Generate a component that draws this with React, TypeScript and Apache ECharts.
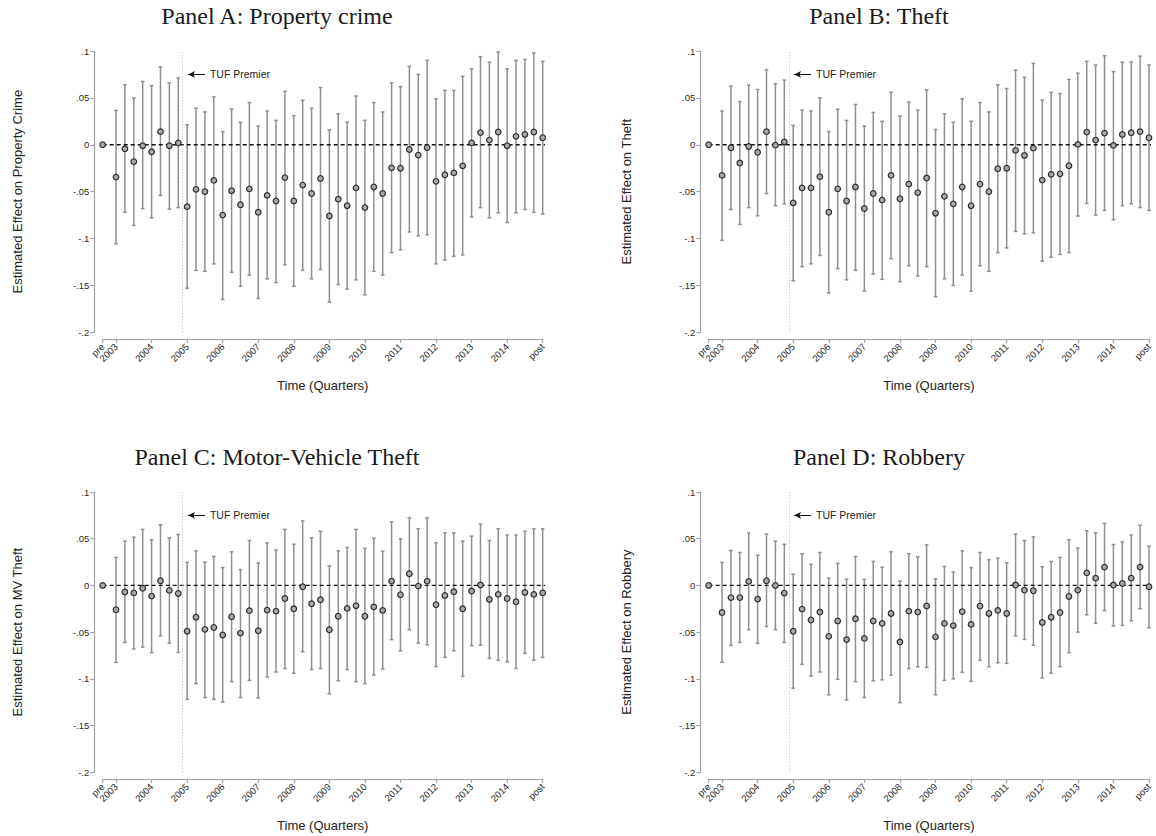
import React, { useEffect, useRef } from 'react';
import * as echarts from 'echarts';

// ---- axis ticks ----
const X_TICKS = [-1.5, 0, 4, 8, 12, 16, 20, 24, 28, 32, 36, 40, 44, 48];
const X_TICK_LABELS = ['pre', '2003', '2004', '2005', '2006', '2007', '2008', '2009', '2010', '2011', '2012', '2013', '2014', 'post'];
const Y_TICKS = [-0.2, -0.15, -0.1, -0.05, 0, 0.05, 0.1];
const Y_TICK_LABELS = ['-.2', '-.15', '-.1', '-.05', '0', '.05', '.1'];

// periods: pre, 2003Q1 ... 2014Q4, post (x position in quarters since 2003Q1)
const PERIOD_X: number[] = [-1.5];
for (let i = 0; i < 48; i++) PERIOD_X.push(i);
PERIOD_X.push(48);

const TUF_PREMIER_X = 7.5;
const TUF_LABEL_Y = 0.075;

// ---- Panel A: Property crime ----
const EST_A = [0, -0.0345, -0.0043, -0.018, -0.001, -0.0075, 0.014, -0.001, 0.002, -0.066, -0.0476, -0.05, -0.038, -0.075, -0.049, -0.064, -0.047, -0.072, -0.054, -0.06, -0.035, -0.06, -0.043, -0.052, -0.036, -0.076, -0.058, -0.065, -0.046, -0.067, -0.045, -0.052, -0.0246, -0.025, -0.005, -0.011, -0.003, -0.039, -0.032, -0.03, -0.0225, 0.002, 0.013, 0.005, 0.0136, -0.001, 0.009, 0.011, 0.0136, 0.0075];
const LO_A = [0, -0.1055, -0.072, -0.086, -0.068, -0.078, -0.054, -0.0686, -0.067, -0.153, -0.134, -0.135, -0.127, -0.165, -0.136, -0.151, -0.139, -0.164, -0.143, -0.147, -0.128, -0.151, -0.134, -0.143, -0.133, -0.168, -0.149, -0.154, -0.144, -0.16, -0.135, -0.139, -0.115, -0.112, -0.093, -0.097, -0.096, -0.127, -0.123, -0.119, -0.1175, -0.077, -0.067, -0.078, -0.0725, -0.083, -0.0725, -0.069, -0.072, -0.074];
const HI_A = [0, 0.0366, 0.064, 0.05, 0.0675, 0.063, 0.083, 0.066, 0.0714, 0.0213, 0.039, 0.035, 0.051, 0.014, 0.038, 0.024, 0.045, 0.02, 0.036, 0.026, 0.057, 0.031, 0.0475, 0.039, 0.061, 0.016, 0.033, 0.024, 0.052, 0.026, 0.045, 0.035, 0.066, 0.062, 0.0836, 0.075, 0.09, 0.049, 0.058, 0.058, 0.073, 0.081, 0.094, 0.088, 0.099, 0.081, 0.09, 0.091, 0.098, 0.089];

// ---- Panel B: Theft ----
const EST_B = [0, -0.0327, -0.0032, -0.0195, -0.0018, -0.008, 0.014, -0.0004, 0.003, -0.062, -0.046, -0.046, -0.034, -0.072, -0.047, -0.06, -0.045, -0.068, -0.052, -0.059, -0.0327, -0.0576, -0.042, -0.051, -0.0355, -0.073, -0.055, -0.063, -0.045, -0.065, -0.042, -0.05, -0.0256, -0.025, -0.006, -0.0114, -0.0036, -0.0377, -0.0316, -0.031, -0.0224, 0.0004, 0.0135, 0.005, 0.0124, -0.0007, 0.011, 0.0128, 0.014, 0.0075];
const LO_B = [0, -0.102, -0.069, -0.085, -0.067, -0.0757, -0.052, -0.065, -0.063, -0.145, -0.13, -0.127, -0.118, -0.158, -0.132, -0.144, -0.134, -0.156, -0.138, -0.1435, -0.1215, -0.146, -0.129, -0.14, -0.13, -0.162, -0.143, -0.15, -0.139, -0.156, -0.129, -0.135, -0.115, -0.11, -0.0924, -0.095, -0.094, -0.124, -0.12, -0.117, -0.115, -0.076, -0.0625, -0.075, -0.07, -0.08, -0.065, -0.063, -0.067, -0.07];
const HI_B = [0, 0.036, 0.0625, 0.046, 0.0636, 0.059, 0.08, 0.065, 0.069, 0.0206, 0.037, 0.036, 0.05, 0.014, 0.038, 0.026, 0.043, 0.02, 0.0345, 0.025, 0.056, 0.0306, 0.0455, 0.037, 0.0586, 0.0163, 0.033, 0.024, 0.049, 0.025, 0.045, 0.035, 0.064, 0.06, 0.0796, 0.072, 0.0867, 0.0476, 0.0558, 0.0547, 0.0697, 0.0764, 0.089, 0.085, 0.095, 0.078, 0.088, 0.0885, 0.0945, 0.085];

// ---- Panel C: Motor-Vehicle Theft ----
const EST_C = [0, -0.026, -0.007, -0.008, -0.003, -0.0114, 0.005, -0.0053, -0.0086, -0.049, -0.034, -0.047, -0.045, -0.053, -0.0335, -0.051, -0.027, -0.0485, -0.0264, -0.0275, -0.014, -0.025, -0.0014, -0.0196, -0.0153, -0.0474, -0.033, -0.0246, -0.0217, -0.033, -0.023, -0.0267, 0.0046, -0.01, 0.0125, -0.0007, 0.0046, -0.0207, -0.0107, -0.0068, -0.025, -0.006, 0.0004, -0.015, -0.0096, -0.014, -0.0175, -0.0075, -0.0096, -0.008];
const LO_C = [0, -0.0824, -0.061, -0.068, -0.066, -0.072, -0.054, -0.0617, -0.0717, -0.122, -0.105, -0.12, -0.122, -0.125, -0.103, -0.12, -0.1016, -0.1205, -0.098, -0.0927, -0.089, -0.094, -0.071, -0.09, -0.089, -0.116, -0.102, -0.09, -0.103, -0.105, -0.096, -0.0895, -0.058, -0.07, -0.0474, -0.0617, -0.0635, -0.087, -0.077, -0.07, -0.0973, -0.0645, -0.064, -0.078, -0.08, -0.082, -0.0888, -0.0727, -0.08, -0.077];
const HI_C = [0, 0.03, 0.0474, 0.0517, 0.06, 0.049, 0.065, 0.051, 0.0545, 0.0246, 0.037, 0.025, 0.031, 0.019, 0.036, 0.017, 0.048, 0.024, 0.0456, 0.038, 0.06, 0.044, 0.069, 0.051, 0.058, 0.021, 0.037, 0.0406, 0.06, 0.0396, 0.0506, 0.0367, 0.068, 0.05, 0.0724, 0.0606, 0.0724, 0.0456, 0.0563, 0.0563, 0.0474, 0.0528, 0.0656, 0.048, 0.0606, 0.054, 0.054, 0.058, 0.0606, 0.0606];

// ---- Panel D: Robbery ----
const EST_D = [0, -0.029, -0.013, -0.013, 0.0043, -0.0146, 0.005, 0, -0.0082, -0.049, -0.0253, -0.037, -0.0285, -0.0545, -0.038, -0.058, -0.0357, -0.0567, -0.038, -0.0406, -0.03, -0.0606, -0.0275, -0.0285, -0.022, -0.055, -0.0406, -0.043, -0.028, -0.0417, -0.022, -0.03, -0.0267, -0.03, 0.0004, -0.005, -0.0057, -0.0396, -0.034, -0.029, -0.0118, -0.005, 0.0135, 0.0078, 0.0196, 0.0004, 0.0021, 0.0078, 0.0196, -0.0014];
const LO_D = [0, -0.0824, -0.064, -0.061, -0.0474, -0.062, -0.044, -0.0474, -0.061, -0.11, -0.0845, -0.097, -0.0927, -0.117, -0.1005, -0.1226, -0.103, -0.12, -0.102, -0.101, -0.096, -0.1255, -0.089, -0.087, -0.0877, -0.117, -0.1016, -0.1, -0.093, -0.1027, -0.08, -0.087, -0.0827, -0.0834, -0.054, -0.0578, -0.064, -0.099, -0.094, -0.087, -0.072, -0.05, -0.0314, -0.0406, -0.027, -0.0435, -0.0428, -0.0378, -0.025, -0.0453];
const HI_D = [0, 0.0246, 0.0374, 0.0353, 0.056, 0.0324, 0.055, 0.0474, 0.044, 0.012, 0.034, 0.0225, 0.0353, 0.0078, 0.0235, 0.0068, 0.031, 0.0064, 0.0257, 0.0196, 0.036, 0.0046, 0.034, 0.0307, 0.0435, 0.0071, 0.0203, 0.0143, 0.037, 0.019, 0.0353, 0.0275, 0.0292, 0.0242, 0.055, 0.048, 0.052, 0.02, 0.0257, 0.03, 0.0488, 0.04, 0.0585, 0.0563, 0.0663, 0.0438, 0.0467, 0.054, 0.0645, 0.042];

const PANEL_TITLES = ['Panel A: Property crime', 'Panel B: Theft', 'Panel C: Motor-Vehicle Theft', 'Panel D: Robbery'];
const Y_TITLES = ['Estimated Effect on Property Crime', 'Estimated Effect on Theft', 'Estimated Effect on MV Theft', 'Estimated Effect on Robbery'];
const X_TITLE = 'Time (Quarters)';
const ANNOTATION = 'TUF Premier';

const PANEL_DATA = [
  { est: EST_A, lo: LO_A, hi: HI_A },
  { est: EST_B, lo: LO_B, hi: HI_B },
  { est: EST_C, lo: LO_C, hi: HI_C },
  { est: EST_D, lo: LO_D, hi: HI_D },
];

// layout (px)
const LAYOUT = [
  { left: 102.7, top: 51, width: 440, height: 281.3, titleX: 277, yTitleX: 17 },
  { left: 708.7, top: 51, width: 440.3, height: 281.3, titleX: 879, yTitleX: 626.5 },
  { left: 102.7, top: 492, width: 440, height: 280.3, titleX: 277, yTitleX: 17 },
  { left: 708.7, top: 492, width: 440.3, height: 280.3, titleX: 879, yTitleX: 626.5 },
];

const SANS = '"Liberation Sans", Arial, sans-serif';
const SERIF = '"Liberation Serif", "Times New Roman", serif';
const AXIS_COLOR = '#a3a3a3';
const BAR_COLOR = '#8f8f8f';
const LABEL_COLOR = '#2a2a2a';

const xLabelFormatter = (v: number) => {
  const i = X_TICKS.findIndex((t) => Math.abs(t - v) < 1e-6);
  return i >= 0 ? X_TICK_LABELS[i] : '';
};

function buildOption() {
  const grid: any[] = [];
  const xAxis: any[] = [];
  const yAxis: any[] = [];
  const series: any[] = [];
  const graphic: any[] = [];

  LAYOUT.forEach((L, p) => {
    grid.push({ left: L.left, top: L.top, width: L.width, height: L.height, containLabel: false });
    // main x axis: line, all ticks, labels except the first ("pre")
    xAxis.push({
      type: 'value', gridIndex: p, min: -1.5, max: 48, offset: 6.7, position: 'bottom',
      splitLine: { show: false },
      axisLine: { show: true, onZero: false, lineStyle: { color: AXIS_COLOR, width: 1.2 } },
      axisTick: { show: true, length: 4, customValues: X_TICKS, lineStyle: { color: AXIS_COLOR, width: 1.2 } },
      axisLabel: {
        show: true, customValues: X_TICKS.slice(1), rotate: 45, margin: 6,
        showMinLabel: true, showMaxLabel: true, hideOverlap: false,
        fontFamily: SANS, fontSize: 9.5, color: LABEL_COLOR,
        formatter: xLabelFormatter,
      },
    });
    yAxis.push({
      type: 'value', gridIndex: p, min: -0.2, max: 0.1, interval: 0.05, offset: 8.4,
      splitLine: { show: false },
      axisLine: { show: true, onZero: false, lineStyle: { color: AXIS_COLOR, width: 1.2 } },
      axisTick: { show: true, length: 4, lineStyle: { color: AXIS_COLOR, width: 1.2 } },
      axisLabel: {
        show: true, margin: 5, fontFamily: SANS, fontSize: 9.5, color: LABEL_COLOR,
        showMinLabel: true, showMaxLabel: true,
        formatter: (v: number) => {
          const i = Y_TICKS.findIndex((t) => Math.abs(t - v) < 1e-6);
          return i >= 0 ? Y_TICK_LABELS[i] : '';
        },
      },
    });

    const D = PANEL_DATA[p];
    const barData: any[] = [];
    PERIOD_X.forEach((x, i) => {
      if (D.lo[i] !== D.hi[i]) barData.push([x, D.lo[i], D.hi[i]]);
    });
    const ptData = PERIOD_X.map((x, i) => [x, D.est[i]]);

    series.push({
      type: 'custom', xAxisIndex: p, yAxisIndex: p, silent: true, z: 2,
      data: barData,
      encode: { x: 0, y: [1, 2] },
      renderItem: (params: any, api: any) => {
        const x = api.value(0);
        const a = api.coord([x, api.value(1)]);
        const b = api.coord([x, api.value(2)]);
        const cap = 1.8;
        const st = { stroke: BAR_COLOR, lineWidth: 1.5 };
        return {
          type: 'group',
          children: [
            { type: 'line', shape: { x1: a[0], y1: a[1], x2: b[0], y2: b[1] }, style: st },
            { type: 'line', shape: { x1: a[0] - cap, y1: a[1], x2: a[0] + cap, y2: a[1] }, style: st },
            { type: 'line', shape: { x1: b[0] - cap, y1: b[1], x2: b[0] + cap, y2: b[1] }, style: st },
          ],
        };
      },
    });

    // zero reference line
    series.push({
      type: 'line', xAxisIndex: p, yAxisIndex: p, silent: true, z: 3, clip: false,
      symbol: 'none', data: [[-1.5, 0], [49, 0]],
      lineStyle: { color: '#111', width: 1.3, type: [4, 3] },
      markLine: {
        silent: true, symbol: ['none', 'none'], animation: false,
        label: { show: false },
        data: [
          { xAxis: TUF_PREMIER_X, lineStyle: { color: '#b5b5b5', width: 1, type: [1, 2] } },
          [
            {
              coord: [10.0, TUF_LABEL_Y], symbol: 'none',
              lineStyle: { color: '#111', width: 1, type: 'solid' },
              label: {
                show: true, position: 'start', formatter: ANNOTATION, distance: 5,
                fontFamily: SANS, fontSize: 10.5, color: '#222',
              },
            },
            { coord: [8.1, TUF_LABEL_Y], symbol: 'arrow', symbolSize: [5, 7] },
          ],
        ],
      },
    });

    series.push({
      type: 'scatter', xAxisIndex: p, yAxisIndex: p, silent: true, z: 4,
      data: ptData, symbol: 'circle', symbolSize: 5.6,
      itemStyle: { color: '#a9a9a9', borderColor: '#2b2b2b', borderWidth: 1.2, opacity: 1 },
    });

    graphic.push({
      type: 'text', x: L.titleX, y: L.top - 35, silent: true,
      style: { text: PANEL_TITLES[p], fontFamily: SERIF, fontSize: 24, fill: '#1a1a1a', textAlign: 'center', textVerticalAlign: 'middle' },
    });
    graphic.push({
      type: 'text', x: L.left + L.width / 2, y: L.top + L.height + 52.7, silent: true,
      style: { text: X_TITLE, fontFamily: SANS, fontSize: 13, fill: '#222', textAlign: 'center', textVerticalAlign: 'middle' },
    });
    graphic.push({
      type: 'text', x: L.yTitleX, y: L.top + L.height / 2, rotation: Math.PI / 2, silent: true,
      style: { text: Y_TITLES[p], fontFamily: SANS, fontSize: 13, fill: '#222', textAlign: 'center', textVerticalAlign: 'middle' },
    });
  });

  // secondary x axes carrying only the "pre" label (so it is not hidden by overlap)
  LAYOUT.forEach((L, p) => {
    xAxis.push({
      type: 'value', gridIndex: p, min: -1.5, max: 48, offset: 6.7, position: 'bottom',
      splitLine: { show: false },
      axisLine: { show: false, onZero: false },
      axisTick: { show: false },
      axisLabel: {
        show: true, customValues: [X_TICKS[0]], rotate: 45, margin: 6,
        showMinLabel: true, hideOverlap: false,
        fontFamily: SANS, fontSize: 9.5, color: LABEL_COLOR,
        formatter: xLabelFormatter,
      },
    });
  });

  return { animation: false, backgroundColor: '#ffffff', grid, xAxis, yAxis, series, graphic };
}

export default function App() {
  const ref = useRef<HTMLDivElement>(null);
  useEffect(() => {
    if (!ref.current) return;
    const chart = echarts.init(ref.current, undefined, { renderer: 'svg' });
    chart.setOption(buildOption() as any);
    return () => chart.dispose();
  }, []);
  return (
    <div
      ref={ref}
      style={{ position: 'fixed', left: 0, top: 0, width: 1156, height: 836, background: '#fff' }}
    />
  );
}
